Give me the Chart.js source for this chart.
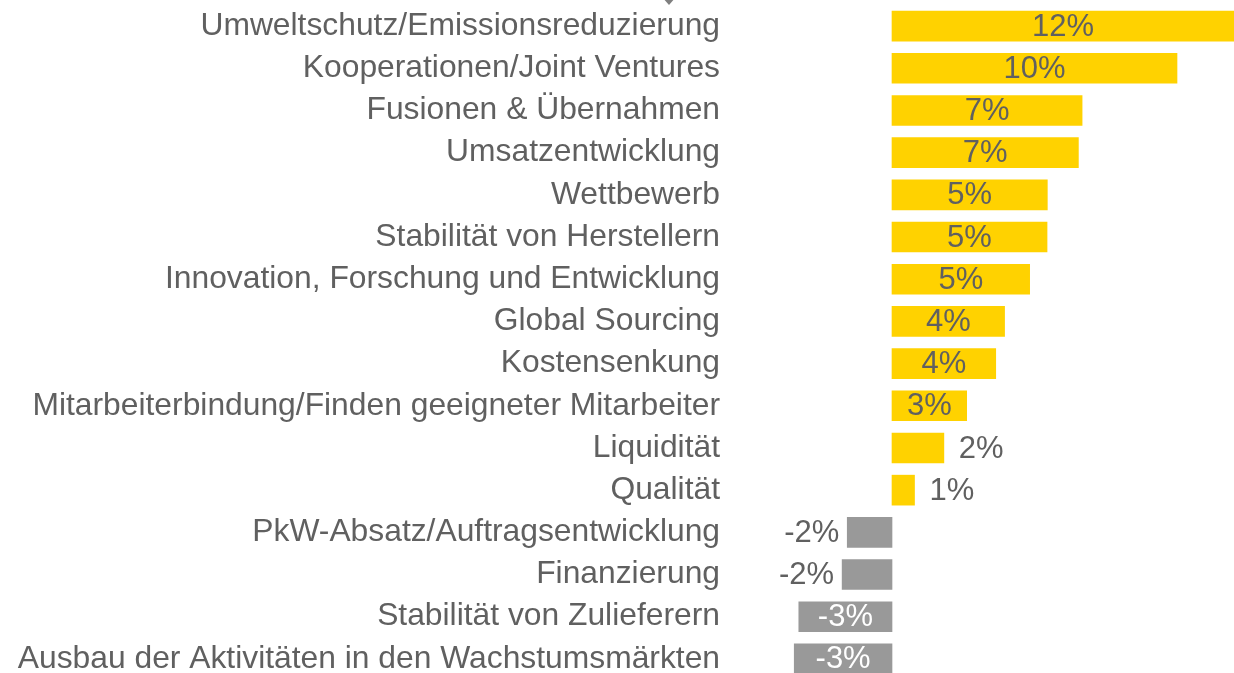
<!DOCTYPE html>
<html>
<head>
<meta charset="utf-8">
<script src="https://cdn.jsdelivr.net/npm/chart.js@4.4.0/dist/chart.umd.min.js"></script>
<style>
    html, body { margin: 0; padding: 0; background: #fff; overflow: hidden; }
    #wrap { position: relative; width: 1234px; height: 680px; }
    #marker {
        position: absolute; left: 662px; top: -3px; width: 0; height: 0;
        border-left: 7px solid transparent; border-right: 7px solid transparent;
        border-top: 8px solid #7f7f7f;
    }
</style>
</head>
<body>
<div id="wrap">
    <canvas id="chart"></canvas>
    <div id="marker"></div>
</div>
<script>
document.addEventListener("DOMContentLoaded", function() {
    'use strict';

    var categories = [
        'Umweltschutz/Emissionsreduzierung',
        'Kooperationen/Joint Ventures',
        'Fusionen & Übernahmen',
        'Umsatzentwicklung',
        'Wettbewerb',
        'Stabilität von Herstellern',
        'Innovation, Forschung und Entwicklung',
        'Global Sourcing',
        'Kostensenkung',
        'Mitarbeiterbindung/Finden geeigneter Mitarbeiter',
        'Liquidität',
        'Qualität',
        'PkW-Absatz/Auftragsentwicklung',
        'Finanzierung',
        'Stabilität von Zulieferern',
        'Ausbau der Aktivitäten in den Wachstumsmärkten'
    ];
    var values = [12.0, 10.0, 6.67, 6.54, 5.45, 5.44, 4.83, 3.95, 3.64, 2.62, 1.82, 0.79, -1.57, -1.75, -3.27, -3.43];
    var valueLabels = ['12%', '10%', '7%', '7%', '5%', '5%', '5%', '4%', '4%', '3%', '2%', '1%', '-2%', '-2%', '-3%', '-3%'];

    var yellow = '#FFD200';
    var grey = '#999999';
    var textColor = '#606060';
    var font = '"Liberation Sans", Arial, sans-serif';

    // value labels: centred inside when they fit, otherwise next to the bar end
    var valueLabelPlugin = {
        id: 'valueLabels',
        afterDatasetsDraw: function(chart) {
            var ctx = chart.ctx;
            var meta = chart.getDatasetMeta(0);
            ctx.save();
            ctx.font = '31px ' + font;
            ctx.textBaseline = 'middle';
            meta.data.forEach(function(bar, i) {
                var text = valueLabels[i];
                var tw = ctx.measureText(text).width;
                var w = Math.abs(bar.x - bar.base);
                var y = bar.y + 1;
                if (w > tw + 22) {
                    ctx.textAlign = 'center';
                    ctx.fillStyle = values[i] < 0 ? '#ffffff' : textColor;
                    ctx.fillText(text, (bar.x + bar.base) / 2, y);
                } else if (values[i] >= 0) {
                    ctx.textAlign = 'left';
                    ctx.fillStyle = textColor;
                    ctx.fillText(text, bar.x + 15, y);
                } else {
                    ctx.textAlign = 'right';
                    ctx.fillStyle = textColor;
                    ctx.fillText(text, bar.x - 8, y);
                }
            });
            ctx.restore();
        }
    };

    new Chart(document.getElementById('chart').getContext('2d'), {
        type: 'bar',
        data: {
            labels: categories,
            datasets: [{
                data: values,
                backgroundColor: values.map(function(v) { return v < 0 ? grey : yellow; }),
                borderWidth: 0,
                barThickness: 30
            }]
        },
        options: {
            indexAxis: 'y',
            responsive: true,
            maintainAspectRatio: false,
            animation: false,
            layout: { padding: { top: 5, right: 0, bottom: 0, left: 0 } },
            plugins: {
                legend: { display: false },
                tooltip: { enabled: false }
            },
            scales: {
                x: {
                    display: false,
                    min: -4,
                    max: 12
                },
                y: {
                    grid: { display: false },
                    border: { display: false },
                    ticks: {
                        color: textColor,
                        font: { family: font, size: 31.8 },
                        padding: 50,
                        autoSkip: false
                    },
                    afterFit: function(scale) {
                        scale.width = 778;
                        scale.paddingTop = 0;
                        scale.paddingBottom = 0;
                    }
                }
            }
        },
        plugins: [valueLabelPlugin]
    });
});
</script>
</body>
</html>
